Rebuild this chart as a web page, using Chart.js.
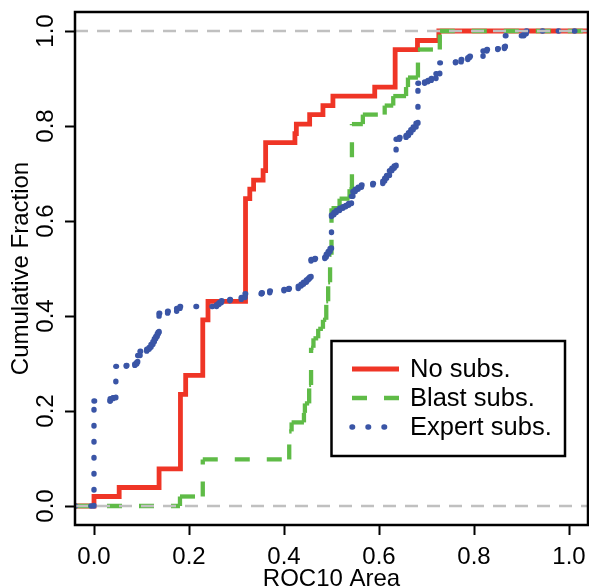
<!DOCTYPE html>
<html>
<head>
<meta charset="utf-8">
<script src="https://cdn.jsdelivr.net/npm/chart.js@4.4.1/dist/chart.umd.min.js"></script>
<style>
  html, body { margin: 0; padding: 0; background: #ffffff; overflow: hidden; }
  canvas { display: block; }
</style>
</head>
<body>
<canvas id="roc" width="589" height="586"></canvas>
<script>
// Empirical cumulative distributions of ROC10 area.
// Each X value is where the step occurs, the matching Y value is the
// cumulative fraction reached at that point.
const noSubsX = [0.000, 0.053, 0.137, 0.182, 0.193, 0.229, 0.240, 0.319, 0.328, 0.336,
                 0.356, 0.360, 0.362, 0.423, 0.426, 0.454, 0.482, 0.503, 0.591, 0.634,
                 0.681, 0.726];
const noSubsY = [0.020, 0.039, 0.078, 0.235, 0.275, 0.392, 0.431, 0.647, 0.667, 0.686,
                 0.706, 0.725, 0.765, 0.784, 0.804, 0.824, 0.843, 0.863, 0.882, 0.961,
                 0.980, 1.000];

const blastSubsX = [0.181, 0.229, 0.411, 0.416, 0.442, 0.444, 0.453, 0.457, 0.462, 0.472,
                    0.482, 0.489, 0.493, 0.497, 0.500, 0.517, 0.538, 0.543, 0.566, 0.612,
                    0.630, 0.657, 0.661, 0.682, 0.728];
const blastSubsY = [0.020, 0.098, 0.157, 0.176, 0.196, 0.216, 0.255, 0.333, 0.353, 0.373,
                    0.392, 0.431, 0.471, 0.529, 0.627, 0.647, 0.667, 0.804, 0.824, 0.843,
                    0.863, 0.882, 0.902, 0.961, 1.000];

const expertSubsX = [0.000, 0.034, 0.040, 0.046, 0.068, 0.086, 0.090, 0.092, 0.097, 0.111,
                     0.116, 0.120, 0.124, 0.127, 0.130, 0.133, 0.135, 0.137, 0.155, 0.174,
                     0.181, 0.258, 0.263, 0.268, 0.286, 0.310, 0.318, 0.353, 0.370, 0.400,
                     0.410, 0.430, 0.436, 0.441, 0.447, 0.451, 0.454, 0.457, 0.465, 0.486,
                     0.489, 0.493, 0.497, 0.500, 0.505, 0.510, 0.517, 0.524, 0.530, 0.536,
                     0.542, 0.545, 0.550, 0.556, 0.563, 0.587, 0.608, 0.612, 0.616, 0.622,
                     0.627, 0.632, 0.636, 0.643, 0.657, 0.662, 0.667, 0.672, 0.678, 0.682,
                     0.696, 0.703, 0.710, 0.720, 0.728, 0.761, 0.773, 0.787, 0.791, 0.819,
                     0.827, 0.850, 0.864, 0.866, 0.905, 0.910];
const expertSubsY = [0.221, 0.226, 0.228, 0.294, 0.296, 0.299, 0.303, 0.317, 0.326, 0.330,
                     0.334, 0.340, 0.346, 0.352, 0.357, 0.362, 0.366, 0.406, 0.410, 0.416,
                     0.420, 0.424, 0.428, 0.432, 0.435, 0.439, 0.447, 0.449, 0.453, 0.456,
                     0.458, 0.463, 0.467, 0.471, 0.476, 0.479, 0.482, 0.519, 0.521, 0.524,
                     0.530, 0.536, 0.542, 0.613, 0.618, 0.622, 0.627, 0.630, 0.633, 0.637,
                     0.652, 0.662, 0.667, 0.671, 0.676, 0.679, 0.684, 0.690, 0.696, 0.706,
                     0.711, 0.716, 0.772, 0.776, 0.780, 0.786, 0.792, 0.798, 0.806, 0.890,
                     0.893, 0.896, 0.900, 0.910, 0.933, 0.935, 0.940, 0.944, 0.947, 0.958,
                     0.961, 0.963, 0.967, 0.990, 0.994, 1.000];

const seriesLabels = ['No subs.', 'Blast subs.', 'Expert subs.'];
const tickValues = [0.0, 0.2, 0.4, 0.6, 0.8, 1.0];
const referenceLevels = [0, 1];
const axisMin = -0.04;
const axisMax = 1.04;

const FONT = '"Liberation Sans", Arial, Helvetica, sans-serif';
const RED = '#ef3526';
const GREEN = '#5fbb47';
const BLUE = '#3a55a6';
const GREY = '#c0c0c0';

// Step function as explicit horizontal and vertical pieces across the axis range
function stepCorners(xs, ys) {
  const pts = [{ x: axisMin, y: 0 }];
  let level = 0;
  xs.forEach((x, i) => {
    pts.push({ x: x, y: level });
    pts.push({ x: x, y: ys[i] });
    level = ys[i];
  });
  pts.push({ x: axisMax, y: level });
  return pts;
}

// Every piece is stroked on its own, so the dash pattern restarts at each piece
const restartDash = { borderDashOffset: c => (c.p0DataIndex % 2) * 0.0001 };

const datasets = [
  // dashed reference lines at 0 and 1 sit on top of everything
  ...referenceLevels.map(level => ({
    label: 'ref' + level,
    data: [{ x: axisMin, y: level }, { x: axisMax, y: level }],
    borderColor: GREY, borderWidth: 2.6, borderDash: [13, 9],
    pointRadius: 0, order: 0, isLegend: false
  })),
  {
    label: seriesLabels[2], data: stepCorners(expertSubsX, expertSubsY),
    borderColor: BLUE, borderWidth: 5.4, borderDash: [0.6, 15.4], borderCapStyle: 'round',
    segment: restartDash, pointRadius: 0, order: 1, isLegend: true
  },
  {
    label: seriesLabels[1], data: stepCorners(blastSubsX, blastSubsY),
    borderColor: GREEN, borderWidth: 4.3, borderDash: [15, 17], borderCapStyle: 'butt',
    segment: restartDash, pointRadius: 0, order: 2, isLegend: true
  },
  {
    label: seriesLabels[0], data: stepCorners(noSubsX, noSubsY),
    borderColor: RED, borderWidth: 4.8, borderCapStyle: 'butt', borderJoinStyle: 'miter',
    pointRadius: 0, order: 3, isLegend: true
  }
];

// Plot frame and the boxed legend in the lower right
const frameAndLegend = {
  id: 'frameAndLegend',
  afterDraw(chart) {
    const ctx = chart.ctx;
    const a = chart.chartArea;
    ctx.save();
    ctx.strokeStyle = '#000';
    ctx.lineWidth = 2.5;
    ctx.strokeRect(a.left, a.top, a.right - a.left, a.bottom - a.top);

    const box = { x: 331.5, y: 341, w: 233.5, h: 115 };
    ctx.fillStyle = '#fff';
    ctx.fillRect(box.x, box.y, box.w, box.h);
    ctx.strokeRect(box.x, box.y, box.w, box.h);

    const entries = chart.data.datasets.filter(d => d.isLegend)
      .sort((p, q) => seriesLabels.indexOf(p.label) - seriesLabels.indexOf(q.label));
    ctx.font = '25.5px ' + FONT;
    ctx.textBaseline = 'middle';
    ctx.textAlign = 'left';
    entries.forEach((d, i) => {
      const y = 369 + i * 29;
      ctx.save();
      ctx.strokeStyle = d.borderColor;
      ctx.lineWidth = d.borderWidth;
      ctx.lineCap = d.borderCapStyle || 'butt';
      ctx.setLineDash(d.borderDash || []);
      ctx.beginPath();
      ctx.moveTo(352, y);
      ctx.lineTo(399, y);
      ctx.stroke();
      ctx.restore();
      ctx.fillStyle = '#000';
      ctx.fillText(d.label, 410, y + 1);
    });
    ctx.restore();
  }
};

new Chart(document.getElementById('roc'), {
  type: 'line',
  data: { datasets: datasets },
  plugins: [frameAndLegend],
  options: {
    responsive: false,
    animation: false,
    devicePixelRatio: 1,
    layout: { padding: { top: 12, right: 1, left: 0, bottom: 0 } },
    plugins: { legend: { display: false }, tooltip: { enabled: false } },
    elements: { line: { tension: 0 }, point: { radius: 0 } },
    scales: {
      x: {
        type: 'linear', min: axisMin, max: axisMax,
        afterBuildTicks: s => { s.ticks = tickValues.map(v => ({ value: v })); },
        afterFit: s => { s.height = 61; s.paddingLeft = 0; s.paddingRight = 0; },
        border: { display: false },
        grid: { drawOnChartArea: false, drawTicks: true, tickLength: 10, tickWidth: 2, tickColor: '#000' },
        ticks: { color: '#000', font: { family: FONT, size: 24 }, padding: 8,
                 minRotation: 0, maxRotation: 0, callback: v => Number(v).toFixed(1) },
        title: { display: true, text: 'ROC10 Area', color: '#000',
                 font: { family: FONT, size: 24, lineHeight: 1 }, padding: { top: 0, bottom: -5 } }
      },
      y: {
        type: 'linear', min: axisMin, max: axisMax,
        afterBuildTicks: s => { s.ticks = tickValues.map(v => ({ value: v })); },
        afterFit: s => { s.width = 75; s.paddingTop = 0; s.paddingBottom = 0; },
        border: { display: false },
        grid: { drawOnChartArea: false, drawTicks: true, tickLength: 10, tickWidth: 2, tickColor: '#000' },
        ticks: { color: '#000', font: { family: FONT, size: 24 }, padding: 2, crossAlign: 'center',
                 minRotation: 90, maxRotation: 90, callback: v => Number(v).toFixed(1) },
        title: { display: true, text: 'Cumulative Fraction', color: '#000',
                 font: { family: FONT, size: 24, lineHeight: 1 }, padding: { top: 9, bottom: 0 } }
      }
    }
  }
});
</script>
</body>
</html>
